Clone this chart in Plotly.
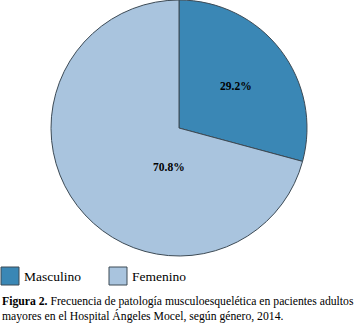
import plotly.graph_objects as go

labels = ["Masculino", "Femenino"]
values = [29.2, 70.8]
colors = ["#3a87b5", "#a9c4de"]
caption_bold = "Figura 2."
caption_text = ("Frecuencia de patología musculoesquelética en pacientes adultos<br>"
                "mayores en el Hospital Ángeles Mocel, según género, 2014.")

W, H = 360, 325
SERIF = "Liberation Serif, Times New Roman, Times, serif"

fig = go.Figure()
fig.add_trace(go.Pie(
    labels=labels, values=values, sort=False, direction="clockwise", rotation=0,
    marker=dict(colors=colors, line=dict(color="#3c4a55", width=1)),
    textinfo="none", hoverinfo="label+percent",
    domain=dict(x=[51/W, 307/W], y=[69/H, 1]),
    showlegend=False,
))

# slice labels
label_pos = [(236, 86), (169, 167)]
ann = []
for v, (px, py) in zip(values, label_pos):
    ann.append(dict(x=px/W, y=1 - py/H, xref="paper", yref="paper", showarrow=False,
                    xanchor="center", yanchor="middle", text=f"<b>{v:.1f}%</b>",
                    font=dict(family=SERIF, size=11.5, color="black")))

# custom legend
legend_x = [1, 109]
shapes = []
for lab, col, lx in zip(labels, colors, legend_x):
    shapes.append(dict(type="rect", xref="paper", yref="paper",
                       x0=lx/W, x1=(lx+18)/W, y0=1-285/H, y1=1-267/H,
                       fillcolor=col, line=dict(color="#3c4a55", width=1)))
    ann.append(dict(x=(lx+21)/W, y=1-276/H, xref="paper", yref="paper", showarrow=False,
                    xanchor="left", yanchor="middle", text=lab,
                    font=dict(family=SERIF, size=13.5, color="black")))

ann.append(dict(x=0/W, y=1-309/H, xref="paper", yref="paper", xanchor="left", yanchor="middle",
                align="left", showarrow=False,
                text=f"<b>{caption_bold}</b> {caption_text}",
                font=dict(family=SERIF, size=11.7, color="black")))

fig.update_layout(
    width=W, height=H, margin=dict(l=0, r=0, t=0, b=0),
    paper_bgcolor="white", plot_bgcolor="white",
    annotations=ann, shapes=shapes,
)
fig.write_html("out.html", config={"displayModeBar": False},
               post_script="document.body.style.margin='0px';")
